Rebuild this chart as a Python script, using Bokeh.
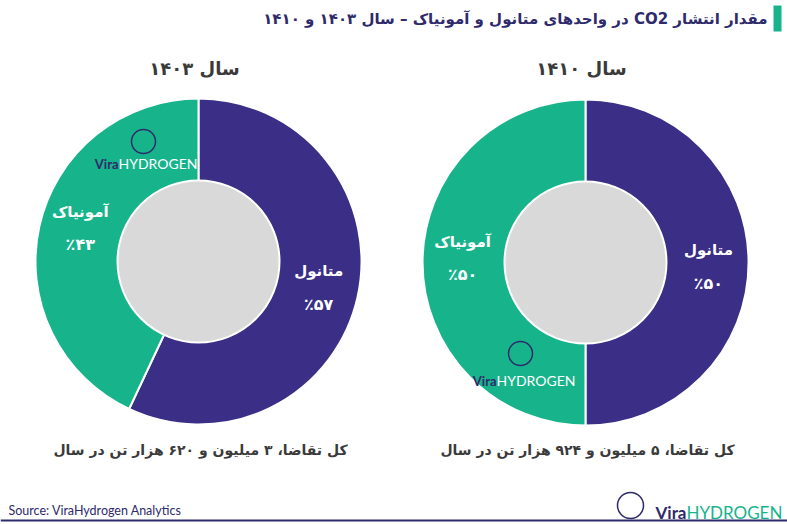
import numpy as np
from bokeh.plotting import figure
from bokeh.models import Range1d, ColumnDataSource
from bokeh.core.properties import value
from bokeh.embed import file_html
from bokeh.resources import INLINE

# ---------------- data ----------------
title_text = "مقدار انتشار CO2 در واحدهای متانول و آمونیاک – سال ۱۴۰۳ و ۱۴۱۰"
years = ["سال ۱۴۰۳", "سال ۱۴۱۰"]
products = ["متانول", "آمونیاک"]
share_1403 = [57, 43]
share_1410 = [50, 50]
totals = ["کل تقاضا، ۳ میلیون و ۶۲۰ هزار تن در سال",
          "کل تقاضا، ۵ میلیون و ۹۲۴ هزار تن در سال"]
source_note = "Source: ViraHydrogen Analytics"
brand_a = "Vira"
brand_b = "HYDROGEN"

# ---------------- style / layout ----------------
W, H = 787, 524
PURPLE = "#3a2e86"
GREEN = "#17b48c"
GRAY = "#d9d9d9"
NAVY = "#2e2a6b"
DARK = "#3a3a3a"
FA_FONT = value("DejaVu Sans")
RLE, PDF = "\u202b", "\u202c"
FA_DIGITS = "۰۱۲۳۴۵۶۷۸۹"


def rtl(s):
    return RLE + s + PDF


def fa_num(n):
    return "".join(FA_DIGITS[int(c)] for c in str(n))


def X(px):
    return px


def Y(py):
    return H - py


p = figure(width=W, height=H, output_backend="svg", toolbar_location=None,
           x_range=Range1d(0, W), y_range=Range1d(0, H), min_border=0,
           background_fill_color="white", border_fill_color="white")
p.axis.visible = False
p.grid.visible = False
p.outline_line_color = None

# title
p.quad(left=[X(773)], right=[X(781)], bottom=[Y(31)], top=[Y(5)],
       fill_color=GREEN, line_color=None)
p.text(x=[X(767)], y=[Y(18)], text=[rtl(title_text)], text_align="right",
       text_baseline="middle", text_font=FA_FONT, text_font_style="bold",
       text_font_size="15px", text_color=NAVY)

centers = [(198, 261), (585, 262)]
R_OUT, R_IN = 163, 81
label_angles = [[-12.2, 164.0], [-1.7, 177.9]]
label_r = 123

for k, shares in enumerate([share_1403, share_1410]):
    cx, cy = centers[k]
    frac = np.array(shares, dtype=float) / sum(shares)
    cum = np.concatenate([[0], np.cumsum(frac)])
    start = np.pi / 2 - 2 * np.pi * cum[:-1]
    end = np.pi / 2 - 2 * np.pi * cum[1:]
    src = ColumnDataSource(dict(x=[X(cx)] * len(shares), y=[Y(cy)] * len(shares),
                                start=start, end=end, color=[PURPLE, GREEN]))
    p.annular_wedge(x="x", y="y", inner_radius=R_IN - 2, outer_radius=R_OUT,
                    start_angle="start", end_angle="end", direction="clock",
                    fill_color="color", line_color="white", line_width=2, source=src)
    p.scatter(x=[X(cx)], y=[Y(cy)], size=2 * R_IN, marker="circle",
              fill_color=GRAY, line_color="white", line_width=2)

    ang = np.radians(label_angles[k])
    lx = X(cx) + label_r * np.cos(ang)
    ly = Y(cy) + label_r * np.sin(ang)
    p.text(x=lx, y=ly + 16, text=[rtl(s) for s in products], text_align="center",
           text_baseline="middle", text_font=FA_FONT, text_font_style="bold",
           text_font_size="15px", text_color="white")
    p.text(x=lx, y=ly - 17, text=["٪" + fa_num(v) for v in shares], text_align="center",
           text_baseline="middle", text_font=FA_FONT, text_font_style="bold",
           text_font_size="16px", text_color="white")

    p.text(x=[X(cx - 4)], y=[Y(68)], text=[rtl(years[k])], text_align="center",
           text_baseline="middle", text_font=FA_FONT, text_font_style="bold",
           text_font_size="18px", text_color=DARK)
    p.text(x=[X(cx + 2)], y=[Y(449)], text=[rtl(totals[k])], text_align="center",
           text_baseline="middle", text_font=FA_FONT, text_font_style="bold",
           text_font_size="14px", text_color=DARK)

# watermark logos inside donuts
for (ix, iy, tx, ty) in [(143, 141, 118, 163), (520, 353, 496, 380)]:
    p.scatter(x=[X(ix)], y=[Y(iy)], size=24, marker="circle", fill_color=None,
              line_color=NAVY, line_width=1.5)
    p.scatter(x=[X(ix)], y=[Y(iy)], size=11, marker="hexagon", fill_color=None,
              line_color="white", line_width=1.2)
    p.text(x=[X(tx)], y=[Y(ty)], text=[brand_a], text_align="right", text_baseline="middle",
           text_font=value("Lato"), text_font_style="bold", text_font_size="13px",
           text_color=NAVY)
    p.text(x=[X(tx)], y=[Y(ty)], text=[brand_b], text_align="left", text_baseline="middle",
           text_font=value("Lato"), text_font_size="14px", text_color="white")

# footer
p.text(x=[X(8)], y=[Y(510)], text=[source_note], text_align="left", text_baseline="middle",
       text_font=value("Lato"), text_font_size="12.5px", text_color=NAVY)
p.scatter(x=[X(630)], y=[Y(505)], size=26, marker="circle", fill_color=None,
          line_color=NAVY, line_width=1.5)
p.scatter(x=[X(630)], y=[Y(505)], size=12, marker="hexagon", fill_color=None,
          line_color=GREEN, line_width=1.2)
p.text(x=[X(686)], y=[Y(512)], text=[brand_a], text_align="right", text_baseline="middle",
       text_font=value("Lato"), text_font_style="bold", text_font_size="17px", text_color=NAVY)
p.text(x=[X(686)], y=[Y(512)], text=[brand_b], text_align="left", text_baseline="middle",
       text_font=value("Lato"), text_font_size="17px", text_color=GREEN)
p.segment(x0=[0], y0=[Y(520)], x1=[W], y1=[Y(520)], line_color=NAVY, line_width=2)

open("out.html", "w").write(file_html(p, INLINE))
